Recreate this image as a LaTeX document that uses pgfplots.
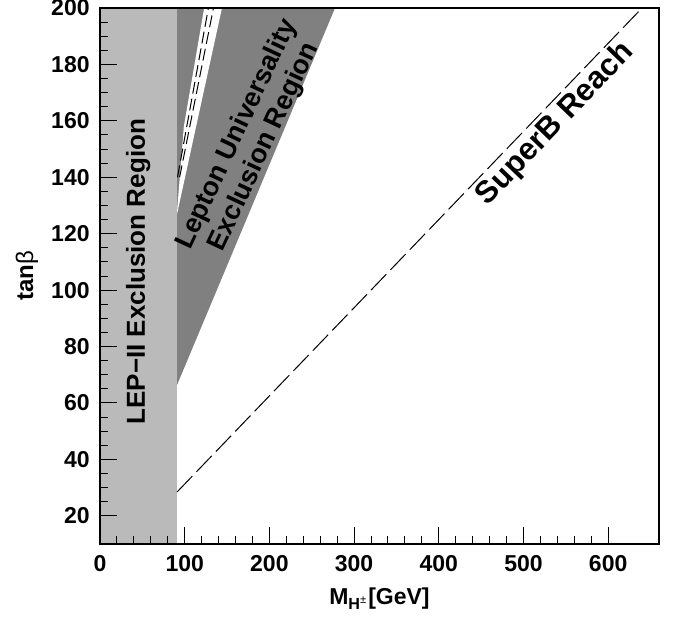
\documentclass[border=0pt]{standalone}
\usepackage{pgfplots}
\pgfplotsset{compat=1.18}
\usepackage{fontspec}
\setmainfont{Liberation Sans}
\begin{document}
\begin{tikzpicture}
\path[use as bounding box] (-50pt,-37pt) rectangle (288.5pt,272pt);
\begin{axis}[
  at={(0,0)}, anchor=south west,
  scale only axis, width=279.5pt, height=268pt,
  xmin=0, xmax=660, ymin=10, ymax=200,
  xtick={0,100,...,600}, ytick={20,40,...,200},
  minor x tick num=4, minor y tick num=3,
  tick align=inside, xtick pos=left, ytick pos=left,
  major tick length=8.5pt, minor tick length=4pt,
  tick style={black, line width=0.5pt},
  axis line style={line width=0.7pt},
  axis on top,
  /pgf/number format/assume math mode=true,
  ticklabel style={font=\bfseries\fontsize{11.5}{12}\selectfont},
  xticklabel style={inner sep=0pt, anchor=north, yshift=-5.5pt},
  yticklabel style={inner sep=0pt, anchor=east, xshift=-5pt},
  xlabel={\textbf{M}\textsubscript{\textbf{H}\textsuperscript{±}}\textbf{[GeV]}},
  ylabel={\textbf{tan}β},
  xlabel style={at={(axis description cs:0.5,-0.1138)}, anchor=base, font=\fontsize{11.5}{12}\selectfont},
  ylabel style={at={(axis description cs:-0.1306,0.5)}, anchor=center, font=\fontsize{12}{12}\selectfont},
]
\addplot[draw=none, fill=black!27] coordinates {(0,10) (91,10) (91,200) (0,200)} -- cycle;
\addplot[draw=none, fill=black!50] coordinates {(91,66.4) (277.5,200) (91,200)} -- cycle;
\addplot[draw=none, fill=white] coordinates {(91,127) (144,200) (123,200) (99,158) (91,128)} -- cycle;
\addplot[black, line width=0.5pt, dash pattern=on 6pt off 2.5pt] coordinates {(91.5,140) (128,200)};
\addplot[black, line width=0.5pt, dash pattern=on 6pt off 2.5pt] coordinates {(94,140) (134,200)};
\addplot[black, line width=0.5pt, dash pattern=on 11pt off 3pt] coordinates {(91,28.44) (640,200)};
\node[rotate=90, font=\bfseries\fontsize{13}{13}\selectfont] at (axis cs:45,106.5) {LEP−II Exclusion Region};
\node[rotate=65, align=center, font=\bfseries\fontsize{13.5}{15}\selectfont] at (axis cs:178,153) {Lepton Universality\\Exclusion Region};
\node[rotate=46.15, anchor=north, inner sep=0pt, font=\bfseries\fontsize{15.5}{15.5}\selectfont] at (axis cs:525.1,162.5) {SuperB Reach};
\end{axis}
\end{tikzpicture}
\end{document}
